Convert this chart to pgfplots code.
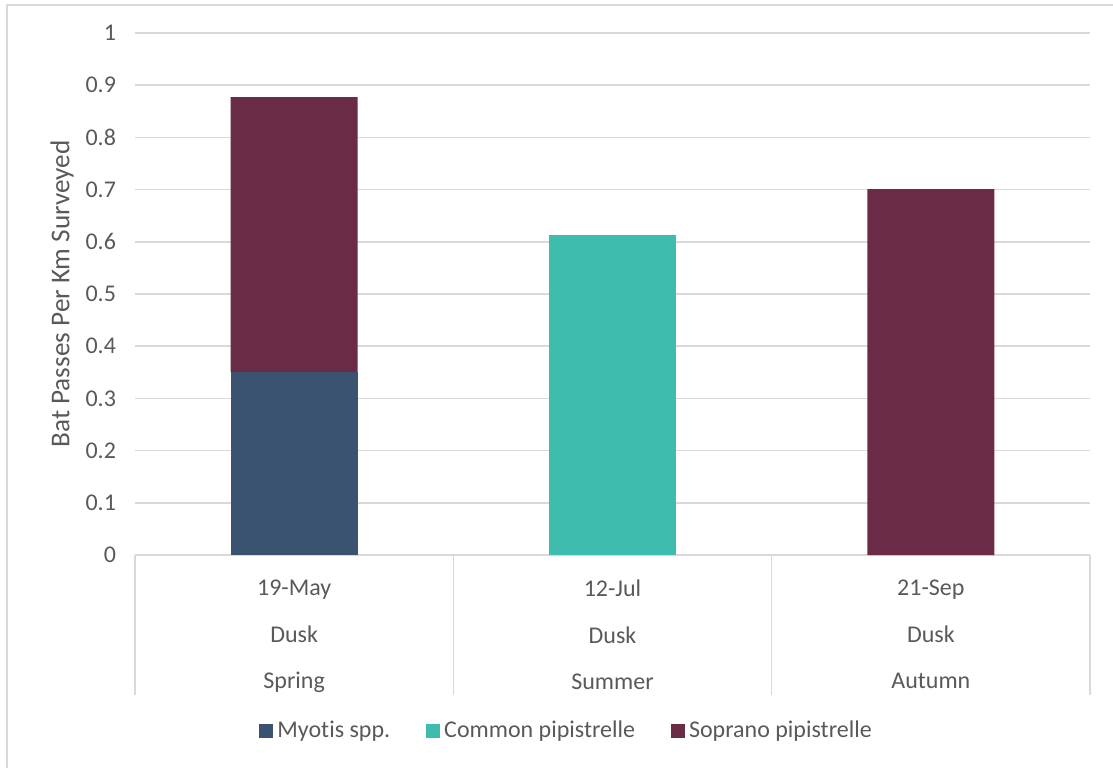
\documentclass[border=0pt]{standalone}
\usepackage{pgfplots}
\pgfplotsset{compat=1.18}
\usepackage{fontspec}
\setmainfont{Carlito}[Ligatures={NoCommon}]
\definecolor{txt}{HTML}{595959}
\definecolor{gridc}{HTML}{D9D9D9}
\definecolor{myotis}{HTML}{3A5371}
\definecolor{common}{HTML}{3EBDAE}
\definecolor{soprano}{HTML}{6A2B46}
\begin{document}
\begin{tikzpicture}
\useasboundingbox (0,0) rectangle (556.5pt,383.5pt);
\draw[gridc, line width=0.75pt] (3.5pt,-20pt) rectangle (620pt,381pt);
\begin{axis}[
  at={(67.5pt,106pt)}, anchor=south west,
  scale only axis, width=477.5pt, height=261pt,
  ybar stacked, bar width=63.5pt,
  xmin=-0.5, xmax=2.5, ymin=0, ymax=1,
  ytick={0,0.1,...,1.0},
  yticklabels={0,0.1,0.2,0.3,0.4,0.5,0.6,0.7,0.8,0.9,1},
  xtick={0,1,2},
  xtick pos=lower, ytick pos=left,
  xticklabels={{19-May\\Dusk\\Spring},{12-Jul\\Dusk\\Summer},{21-Sep\\Dusk\\Autumn}},
  xticklabel style={align=center, font=\fontsize{12}{23.3}\selectfont, text=txt, yshift=-9pt},
  yticklabel style={font=\fontsize{12}{14}\selectfont, text=txt, xshift=-6pt},
  /pgf/number format/assume math mode=true,
  major tick length=0pt,
  ymajorgrids, grid style={gridc, line width=0.75pt},
  axis line style={draw=none},
  extra x ticks={-0.5,0.5,1.5,2.5},
  extra x tick labels={},
  extra x tick style={grid=none, tick align=outside, major tick length=70pt,
     xtick pos=lower, tick style={gridc, line width=0.75pt}},
  ylabel={Bat Passes Per Km Surveyed},
  ylabel style={font=\fontsize{13.6}{16}\selectfont, text=txt, yshift=-1pt},
  legend columns=3,
  legend style={at={(0.453,-0.337)}, anchor=center, draw=none, fill=none,
     font=\fontsize{12}{14}\selectfont, text=txt,
     /tikz/every even column/.append style={column sep=16pt}},
  legend image code/.code={\fill[#1] (0pt,-3.5pt) rectangle (7pt,3.5pt);},
  legend cell align=left,
]
\addplot[fill=myotis, draw=none] coordinates {(0,0.350) (1,0) (2,0)};
\addplot[fill=common, draw=none] coordinates {(0,0) (1,0.613) (2,0)};
\addplot[fill=soprano, draw=none] coordinates {(0,0.527) (1,0) (2,0.701)};
\draw[gridc, line width=0.75pt] (axis cs:-0.5,0) -- (axis cs:2.5,0);
\legend{Myotis spp.,Common pipistrelle,Soprano pipistrelle}
\end{axis}
\end{tikzpicture}
\end{document}
